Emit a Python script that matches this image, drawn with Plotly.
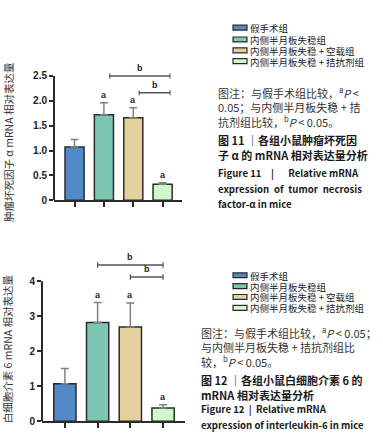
import plotly.graph_objects as go

W, H = 383, 447

groups = ["假手术组", "内侧半月板失稳组", "内侧半月板失稳 + 空载组", "内侧半月板失稳 + 拮抗剂组"]
colors = ["#5289c9", "#7dc6b1", "#e5d19d", "#cdf7cd"]

tnf_values = [1.07, 1.72, 1.66, 0.32]
tnf_err = [0.15, 0.24, 0.20, 0.03]
tnf_marks = ["", "a", "a", "a"]
tnf_sig = [(1, 3, 2.50), (2, 3, 2.16)]
tnf_ticks = [0, 0.5, 1.0, 1.5, 2.0, 2.5]
tnf_ticktext = ["0", "0.5", "1.0", "1.5", "2.0", "2.5"]

il6_values = [1.07, 2.82, 2.69, 0.38]
il6_err = [0.44, 0.57, 0.69, 0.09]
il6_marks = ["", "a", "a", "a"]
il6_sig = [(1, 3, 4.46), (2, 3, 4.12)]
il6_ticks = [0, 1, 2, 3, 4]
il6_ticktext = ["0", "1", "2", "3", "4"]

S = "\u00a0"
E = "\u2002"
# (text, kind): kind 0 = note, 1 = bold Chinese title, 2 = bold English title
cap1 = [
    ("图注：与假手术组比较，<sup>a</sup><i>P</i> <", 0),
    ("0.05；与内侧半月板失稳 + 拮", 0),
    ("抗剂组比较，<sup>b</sup><i>P</i> < 0.05。", 0),
    ("图 11 ｜各组小鼠肿瘤坏死因", 1),
    ("子 α 的 mRNA 相对表达量分析", 1),
    ("Figure 11" + E + E + "|" + E + E + E + "Relative mRNA", 2),
    ("expression" + E + "of" + E + "tumor" + E + "necrosis", 2),
    ("factor-α in mice", 2),
]
cap2 = [
    ("图注：与假手术组比较，<sup>a</sup><i>P</i> < 0.05；", 0),
    ("与内侧半月板失稳 + 拮抗剂组比", 0),
    ("较，<sup>b</sup><i>P</i> < 0.05。", 0),
    ("图 12 ｜各组小鼠白细胞介素 6 的", 1),
    ("mRNA 相对表达量分析", 1),
    ("Figure 12" + S + " | " + S + "Relative mRNA", 2),
    ("expression of interleukin-6 in mice", 2),
]


def px(x):
    return x / W


def py(y):
    return 1 - y / H


CJK = "Noto Sans CJK SC"
fig = go.Figure()

panels = [
    dict(xa="x", ya="y", vals=tnf_values, err=tnf_err, marks=tnf_marks, sig=tnf_sig,
         ticks=tnf_ticks, ticktext=tnf_ticktext, ytop=2.5, yrange=[0, 2.8],
         xdom=[px(54), px(182)], ydom=[py(203), py(203 - 2.8 * 50.4)], xrange=[-0.7, 3.66],
         width=0.65, sigoff=(0.2, 0.25), title="肿瘤坏死因子 α mRNA 相对表达量",
         tx=8, ty=144, leg_x=233, leg_y=[28, 40, 51, 62], cap=cap1, cap_x=216,
         cap_y=[94, 108, 123, 142, 157, 175, 192, 207]),
    dict(xa="x2", ya="y2", vals=il6_values, err=il6_err, marks=il6_marks, sig=il6_sig,
         ticks=il6_ticks, ticktext=il6_ticktext, ytop=4, yrange=[0, 4.7],
         xdom=[px(42), px(185)], ydom=[py(427), py(427 - 4.7 * 35.5)], xrange=[-0.7, 3.67],
         width=0.68, sigoff=(0.0, 0.0), title="白细胞介素 6 mRNA 相对表达量",
         tx=7, ty=354, leg_x=233, leg_y=[279, 290, 301, 312], cap=cap2, cap_x=199,
         cap_y=[337, 352, 366, 385, 400, 415, 431]),
]

cap_fonts = {
    0: dict(family=CJK, size=11, color="#333"),
    1: dict(family=CJK, size=11, color="#1a1a1a", weight="bold"),
    2: dict(family=CJK, size=9.6, color="#1a1a1a", weight="bold"),
}

for k, p in enumerate(panels):
    fig.add_trace(go.Bar(
        x=groups, y=p["vals"], xaxis=p["xa"], yaxis=p["ya"],
        marker=dict(color=colors, line=dict(color="#2b2b2b", width=1.5)),
        width=p["width"], showlegend=False,
        error_y=dict(type="data", array=p["err"], arrayminus=[0] * 4, symmetric=False,
                     color="#808080", thickness=1.5, width=4),
    ))
    axn = "" if k == 0 else "2"
    fig.update_layout(**{
        "xaxis" + axn: dict(domain=p["xdom"], anchor=p["ya"], type="category",
                            range=p["xrange"], showline=True, linecolor="#2b2b2b",
                            linewidth=2, ticks="outside", ticklen=5, tickwidth=1.5,
                            tickcolor="#2b2b2b", showticklabels=False, showgrid=False,
                            zeroline=False, fixedrange=True),
        "yaxis" + axn: dict(domain=p["ydom"], anchor=p["xa"], range=p["yrange"],
                            showline=False, tickvals=p["ticks"], ticktext=p["ticktext"],
                            ticks="outside", ticklen=4, tickwidth=1.5, tickcolor="#2b2b2b",
                            tickfont=dict(family="Liberation Sans", size=10, color="#222",
                                          weight="bold"),
                            showgrid=False, zeroline=False, fixedrange=True),
    })
    fig.add_shape(type="line", xref=p["xa"] + " domain", yref=p["ya"], x0=0, x1=0,
                  y0=0, y1=p["ytop"], line=dict(color="#2b2b2b", width=2))
    for i, (g, m) in enumerate(zip(groups, p["marks"])):
        if m:
            fig.add_annotation(x=g, y=p["vals"][i] + p["err"][i], xref=p["xa"], yref=p["ya"],
                               text="<b>" + m + "</b>", showarrow=False, yanchor="bottom",
                               yshift=1, font=dict(family="Liberation Sans", size=9,
                                                   color="#1c1c30"))
    for (a, b, yv) in p["sig"]:
        x0 = a + p["sigoff"][0]
        x1 = b + p["sigoff"][1]
        fig.add_shape(type="line", xref=p["xa"], yref=p["ya"], x0=x0, x1=x1, y0=yv, y1=yv,
                      line=dict(color="#555", width=1.5))
        for xe in (x0, x1):
            fig.add_shape(type="line", xref=p["xa"], yref=p["ya"], x0=xe, x1=xe,
                          y0=yv - 0.05 * p["ytop"] / 2.5, y1=yv + 0.05 * p["ytop"] / 2.5,
                          line=dict(color="#555", width=1.2))
        fig.add_annotation(x=(x0 + x1) / 2, y=yv, xref=p["xa"], yref=p["ya"],
                           text="<b>b</b>", showarrow=False, yanchor="bottom", yshift=1,
                           font=dict(family="Liberation Sans", size=9, color="#1c1c30"))
    fig.add_annotation(x=px(p["tx"]), y=py(p["ty"]), xref="paper", yref="paper",
                       text=p["title"], textangle=-90, showarrow=False,
                       xanchor="center", yanchor="middle",
                       font=dict(family=CJK, size=10.5, color="#333"))
    for g, c, ly in zip(groups, colors, p["leg_y"]):
        fig.add_shape(type="rect", xref="paper", yref="paper",
                      x0=px(p["leg_x"]), x1=px(p["leg_x"] + 14),
                      y0=py(ly + 2.5), y1=py(ly - 2.5),
                      fillcolor=c, line=dict(color="#2b2b2b", width=1.2))
        fig.add_annotation(x=px(p["leg_x"] + 15), y=py(ly), xref="paper", yref="paper",
                           text=g, showarrow=False, xanchor="left", yanchor="middle",
                           height=11, font=dict(family=CJK, size=9.5, color="#222"))
    for (t, kind), cy in zip(p["cap"], p["cap_y"]):
        fig.add_annotation(x=px(p["cap_x"]), y=py(cy), xref="paper", yref="paper",
                           text=t, showarrow=False, xanchor="left", yanchor="middle",
                           font=cap_fonts[kind])

fig.update_layout(width=W, height=H, margin=dict(l=0, r=0, t=0, b=0),
                  plot_bgcolor="white", paper_bgcolor="white", bargap=0.3)
fig.write_html("out.html", config={"displayModeBar": False},
               post_script="document.body.style.margin='0';")
